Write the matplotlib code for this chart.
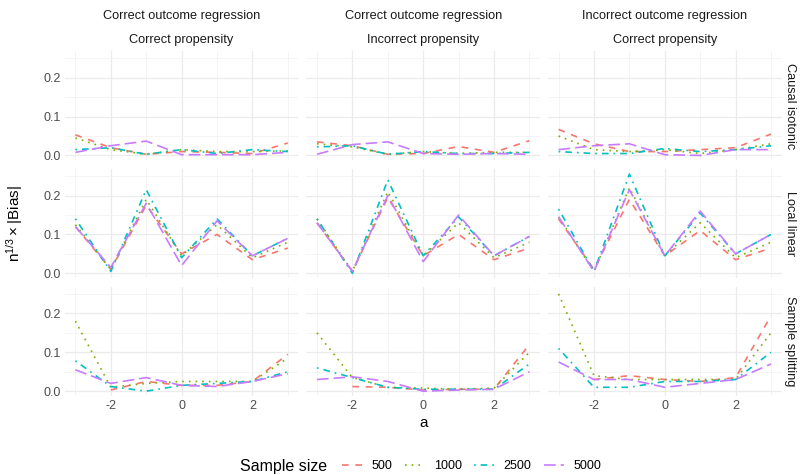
import numpy as np
import matplotlib
matplotlib.use("Agg")
import matplotlib.pyplot as plt
from matplotlib.lines import Line2D

plt.rcParams['font.family'] = ['Liberation Sans', 'DejaVu Sans']
plt.rcParams['axes.unicode_minus'] = False

# x grid of treatment values
a_vals = [-3, -2, -1, 0, 1, 2, 3]
sizes = ['500', '1000', '2500', '5000']
col_top = ['Correct outcome regression', 'Correct outcome regression', 'Incorrect outcome regression']
col_bot = ['Correct propensity', 'Incorrect propensity', 'Correct propensity']
row_labels = ['Causal isotonic', 'Local linear', 'Sample splitting']
nan = np.nan

# bias values, [row][col][sample size]
iso_cc = [[0.053, 0.020, 0.003, 0.010, 0.008, 0.005, 0.032],
          [0.045, 0.015, 0.003, 0.015, 0.010, 0.010, 0.012],
          [0.015, 0.020, 0.003, 0.015, 0.005, 0.015, 0.010],
          [0.008, 0.025, 0.037, 0.002, 0.002, 0.002, 0.008]]
iso_ci = [[0.035, 0.025, 0.003, 0.005, 0.023, 0.008, 0.038],
          [0.030, 0.022, 0.003, 0.010, 0.005, 0.008, 0.008],
          [0.022, 0.025, 0.003, 0.010, 0.005, 0.005, 0.008],
          [0.003, 0.028, 0.035, 0.005, 0.003, 0.005, 0.003]]
iso_ic = [[0.067, 0.030, 0.010, 0.010, 0.015, 0.020, 0.055],
          [0.050, 0.015, 0.010, 0.015, 0.005, 0.015, 0.030],
          [0.010, 0.005, 0.005, 0.018, 0.010, 0.015, 0.025],
          [0.015, 0.025, 0.030, 0.002, 0.000, 0.015, 0.015]]

ll_cc = [[0.120, 0.010, 0.175, 0.050, 0.100, 0.035, 0.065],
         [0.125, 0.010, 0.190, 0.045, 0.125, 0.040, 0.080],
         [0.140, 0.005, 0.215, 0.040, 0.140, 0.045, 0.090],
         [0.120, 0.015, 0.180, 0.020, 0.135, 0.045, 0.090]]
ll_ci = [[0.130, 0.005, 0.195, 0.045, 0.100, 0.035, 0.065],
         [0.140, 0.005, 0.210, 0.045, 0.130, 0.040, 0.080],
         [0.140, 0.000, 0.240, 0.045, 0.145, 0.045, 0.095],
         [0.130, 0.005, 0.200, 0.030, 0.150, 0.045, 0.095]]
ll_ic = [[0.140, 0.010, 0.190, 0.045, 0.110, 0.035, 0.065],
         [0.145, 0.005, 0.220, 0.045, 0.130, 0.040, 0.080],
         [0.165, 0.005, 0.255, 0.045, 0.155, 0.050, 0.100],
         [0.145, 0.005, 0.215, 0.045, 0.160, 0.050, 0.100]]

ss_cc = [[nan, 0.003, 0.025, 0.015, 0.015, 0.025, 0.095],
         [0.180, 0.010, 0.020, 0.025, 0.025, 0.025, 0.085],
         [0.078, 0.012, 0.000, 0.015, 0.020, 0.025, 0.050],
         [0.055, 0.020, 0.035, 0.015, 0.012, 0.025, 0.045]]
ss_ci = [[nan, 0.012, 0.010, 0.003, 0.005, 0.005, 0.120],
         [0.150, 0.035, 0.010, 0.008, 0.005, 0.008, 0.100],
         [0.060, 0.035, 0.010, 0.005, 0.005, 0.005, 0.070],
         [0.030, 0.037, 0.025, 0.000, 0.003, 0.005, 0.050]]
ss_ic = [[nan, 0.030, 0.040, 0.030, 0.025, 0.035, 0.194],
         [0.250, 0.040, 0.030, 0.030, 0.030, 0.030, 0.150],
         [0.110, 0.010, 0.010, 0.025, 0.025, 0.030, 0.100],
         [0.075, 0.030, 0.030, 0.010, 0.020, 0.030, 0.070]]

panels = [[iso_cc, iso_ci, iso_ic],
          [ll_cc, ll_ci, ll_ic],
          [ss_cc, ss_ci, ss_ic]]

colors = ['#F8766D', '#7CAE00', '#00BFC4', '#C77CFF']
styles = [(0, (4, 4)), (0, (1, 3)), (0, (1, 3, 4, 3)), (0, (7, 3))]

fig, axes = plt.subplots(3, 3, figsize=(8, 4.75), dpi=100, sharex=True, sharey=True)
fig.subplots_adjust(left=0.081, right=0.977, top=0.892, bottom=0.166, wspace=0.034, hspace=0.08)

allv = np.array(panels, dtype=float)
lo, hi = np.nanmin(allv), np.nanmax(allv)
pad = (hi - lo) * 0.05

for r in range(3):
    for c in range(3):
        ax = axes[r][c]
        for k in range(4):
            ax.plot(a_vals, panels[r][c][k], color=colors[k], linestyle=styles[k], lw=1.2)
        ax.set_xlim(-3.3, 3.3)
        ax.set_ylim(lo - pad, hi + pad)
        ax.set_xticks([-2, 0, 2])
        ax.set_xticks([-3, -1, 1, 3], minor=True)
        ax.set_yticks([0.0, 0.1, 0.2])
        ax.set_yticks([0.05, 0.15, 0.25], minor=True)
        ax.yaxis.set_major_formatter(matplotlib.ticker.FormatStrFormatter('%.1f'))
        ax.grid(which='major', color='#EBEBEB', lw=0.9)
        ax.grid(which='minor', color='#F3F3F3', lw=0.6)
        ax.set_axisbelow(True)
        for s in ax.spines.values():
            s.set_visible(False)
        ax.tick_params(which='both', length=0, labelsize=9, labelcolor='#4D4D4D', pad=3)

# strips
for c in range(3):
    pos = axes[0][c].get_position()
    xc = (pos.x0 + pos.x1) / 2
    fig.text(xc, 1 - 16 / 475, col_top[c], ha='center', va='center', fontsize=9.2, color='#1A1A1A')
    fig.text(xc, 1 - 40 / 475, col_bot[c], ha='center', va='center', fontsize=9.2, color='#1A1A1A')
for r in range(3):
    pos = axes[r][2].get_position()
    fig.text(790 / 800, (pos.y0 + pos.y1) / 2, row_labels[r], rotation=270, ha='center', va='center',
             fontsize=9.2, color='#1A1A1A')

fig.text(15 / 800, (axes[0][0].get_position().y1 + axes[2][0].get_position().y0) / 2,
         r'$\mathregular{n^{1/3}\times|Bias|}$', rotation=90, ha='center', va='center', fontsize=11)
fig.text(0.5 * (axes[2][0].get_position().x0 + axes[2][2].get_position().x1), 1 - 423 / 475, 'a',
         ha='center', va='center', fontsize=11)

# legend
handles = [Line2D([], [], color=colors[k], linestyle=styles[k], lw=1.2) for k in range(4)]
fig.text(240 / 800, 1 - 466 / 475, 'Sample size', ha='left', va='center', fontsize=11.5)
fig.legend(handles, sizes, loc='center left', bbox_to_anchor=(342 / 800, 1 - 466 / 475), ncol=4,
           frameon=False, fontsize=9, handlelength=1.6, handletextpad=0.74, columnspacing=1.0,
           borderpad=0, borderaxespad=0)

fig.savefig('out.png', dpi=100)
